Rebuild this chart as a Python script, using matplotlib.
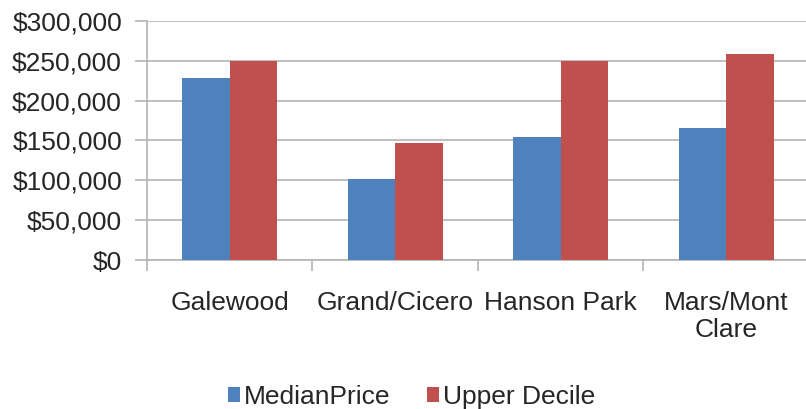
import matplotlib.pyplot as plt
import numpy as np
from matplotlib.ticker import FuncFormatter, FixedLocator

plt.rcParams['font.family'] = ['Liberation Sans', 'DejaVu Sans']

neighborhoods = ['Galewood', 'Grand/Cicero', 'Hanson Park', 'Mars/Mont\nClare']
median_price = [228000, 102000, 155000, 166000]
upper_decile = [250000, 147000, 250000, 259000]

blue = '#4F81BD'
red = '#C0504D'
grid_gray = '#b4b4b4'
txt = '#262626'

fig = plt.figure(figsize=(8.06, 4.09), dpi=100)
ax = fig.add_axes([0.1824, 0.3643, 0.821, 0.5844])

x = np.arange(len(neighborhoods))
w = 0.287
ax.bar(x - w/2, median_price, w, color=blue, label='MedianPrice', zorder=3)
ax.bar(x + w/2, upper_decile, w, color=red, label='Upper Decile', zorder=3)

ax.set_xlim(-0.5, 3.5)
ax.set_ylim(0, 300000)
ax.set_yticks(np.arange(0, 300001, 50000))
ax.yaxis.set_major_formatter(FuncFormatter(lambda v, p: '${:,.0f}'.format(v)))
ax.grid(axis='y', color=grid_gray, linewidth=1.2, zorder=0)

ax.set_xticks(x)
ax.set_xticklabels(neighborhoods, fontsize=19, color=txt)
ax.xaxis.set_minor_locator(FixedLocator([-0.5, 0.5, 1.5, 2.5, 3.5]))
ax.tick_params(axis='x', which='major', length=0, pad=22)
ax.tick_params(axis='x', which='minor', length=8, width=1.2, color=grid_gray)
ax.tick_params(axis='y', length=9, width=1.2, color=grid_gray, pad=9,
               labelsize=19, labelcolor=txt)

for s in ['top', 'right']:
    ax.spines[s].set_visible(False)
for s in ['left', 'bottom']:
    ax.spines[s].set_color(grid_gray)
    ax.spines[s].set_linewidth(1.2)

fig.legend(loc='center', bbox_to_anchor=(0.511, 0.03), ncol=2, frameon=False,
           fontsize=19, handlelength=0.45, handleheight=0.5, handletextpad=0.15,
           columnspacing=1.4, labelcolor=txt, borderpad=0)

fig.savefig('out.png', dpi=100)
